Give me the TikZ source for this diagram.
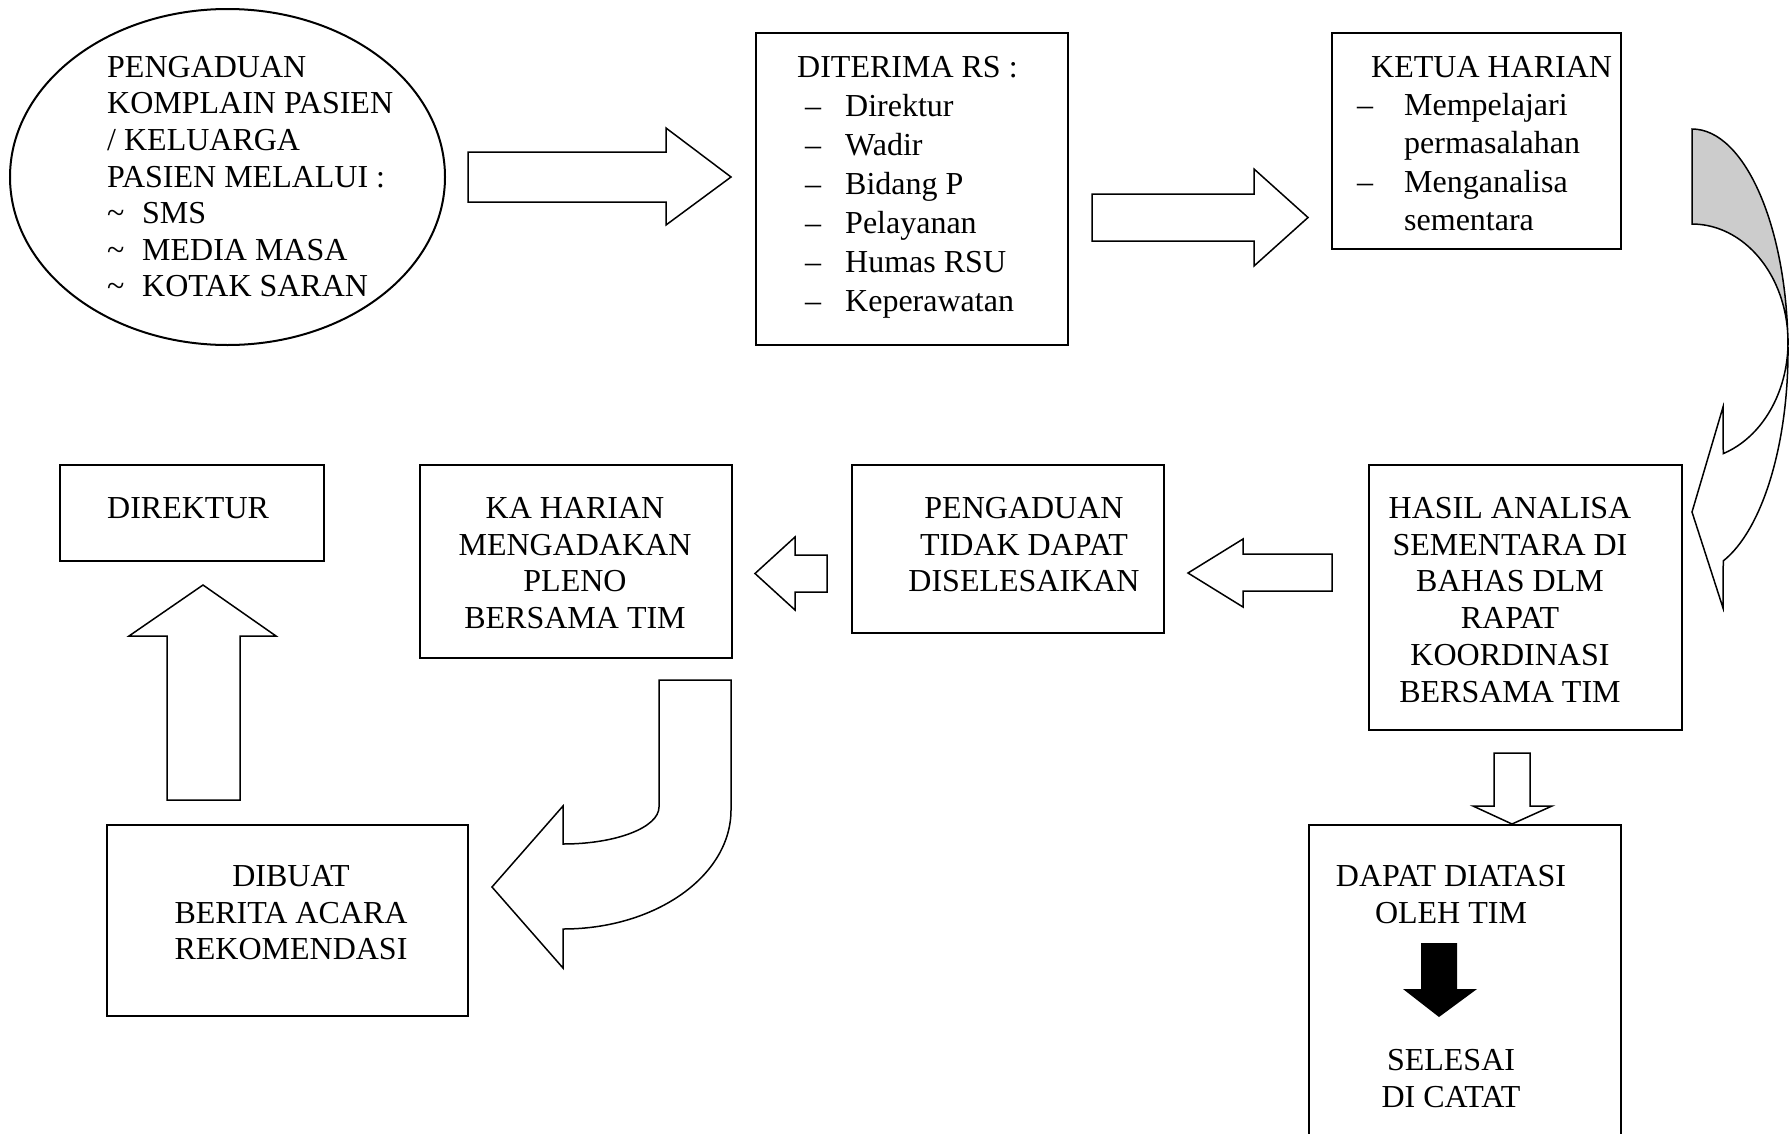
\documentclass[tikz,border=0pt]{standalone}
\usepackage{fontspec}
\setmainfont{Liberation Serif}
\usetikzlibrary{shapes.geometric}
\definecolor{shadegray}{RGB}{204,204,204}
\tikzset{
  box/.style={draw, line width=2pt, inner sep=0pt, anchor=north west},
  blk/.style={draw, line width=1.5pt, line join=miter, fill=white},
  txt/.style={inner sep=0pt, font=\fontsize{32}{36.8}\selectfont},
}
\begin{document}
\begin{tikzpicture}[x=1pt,y=-1pt]
\useasboundingbox (0,0) rectangle (1791,1133);
\fill[white] (0,0) rectangle (1791,1133);

% ---- source ellipse
\node[draw, ellipse, line width=2pt, minimum width=435pt, minimum height=336pt, inner sep=0pt] (src) at (227.5,177) {};
\node[txt, anchor=north west, align=left, font=\fontsize{32}{36.6}\selectfont] (srctxt) at (107,56)
  {PENGADUAN\\KOMPLAIN PASIEN\\/ KELUARGA\\PASIEN MELALUI :\\
   \makebox[35pt][l]{\textasciitilde}SMS\\
   \makebox[35pt][l]{\textasciitilde}MEDIA MASA\\
   \makebox[35pt][l]{\textasciitilde}KOTAK SARAN};

% ---- boxes
\node[box, minimum width=312pt, minimum height=312pt] (diterima) at (755,32) {};
\node[box, minimum width=289pt, minimum height=216pt] (ketua) at (1331,32) {};
\node[box, minimum width=313pt, minimum height=265pt] (hasil) at (1368,464) {};
\node[box, minimum width=312pt, minimum height=168pt] (tidak) at (851,464) {};
\node[box, minimum width=312pt, minimum height=193pt] (kaharian) at (419,464) {};
\node[box, minimum width=264pt, minimum height=96pt] (direktur) at (59,464) {};
\node[box, minimum width=361pt, minimum height=191pt] (dibuat) at (106,824) {};
\node[box, minimum width=312pt, minimum height=330pt] (dapat) at (1308,824) {};

% ---- texts
\node[txt, anchor=north west, align=left, font=\fontsize{32}{39}\selectfont] (diteritxt) at (797,56)
  {DITERIMA RS :\\
   \hspace*{8pt}\makebox[40pt][l]{–}Direktur\\
   \hspace*{8pt}\makebox[40pt][l]{–}Wadir\\
   \hspace*{8pt}\makebox[40pt][l]{–}Bidang P\\
   \hspace*{8pt}\makebox[40pt][l]{–}Pelayanan\\
   \hspace*{8pt}\makebox[40pt][l]{–}Humas RSU\\
   \hspace*{8pt}\makebox[40pt][l]{–}Keperawatan};
\node[txt, anchor=north west, align=left, font=\fontsize{32}{38.3}\selectfont] (ketuatxt) at (1357,56)
  {\hspace*{14pt}KETUA HARIAN\\
   \makebox[47pt][l]{–}Mempelajari\\
   \hspace*{47pt}permasalahan\\
   \makebox[47pt][l]{–}Menganalisa\\
   \hspace*{47pt}sementara};
\node[txt, anchor=north, align=center] (hasiltxt) at (1510,497)
  {HASIL ANALISA\\SEMENTARA DI\\BAHAS DLM\\RAPAT\\KOORDINASI\\BERSAMA TIM};
\node[txt, anchor=north, align=center] (tidaktxt) at (1024,497)
  {PENGADUAN\\TIDAK DAPAT\\DISELESAIKAN};
\node[txt, anchor=north, align=center] (katxt) at (575,497)
  {KA HARIAN\\MENGADAKAN\\PLENO\\BERSAMA TIM};
\node[txt, anchor=north west] (direktxt) at (107,497) {DIREKTUR};
\node[txt, anchor=north, align=center] (dibuattxt) at (291,865)
  {DIBUAT\\BERITA ACARA\\REKOMENDASI};
\node[txt, anchor=north, align=center, font=\fontsize{32}{37}\selectfont] (dapattxt) at (1451,865)
  {DAPAT DIATASI\\OLEH TIM};
\node[txt, anchor=north, align=center, font=\fontsize{32}{37}\selectfont] (selesaitxt) at (1451,1049)
  {SELESAI\\DI CATAT};

% ---- block arrows
\draw[blk] (468,152) -- (666,152) -- (666,128) -- (731,177) -- (666,225) -- (666,202) -- (468,202) -- cycle;
\draw[blk] (1092,194) -- (1254,194) -- (1254,169) -- (1308,217.5) -- (1254,266) -- (1254,241) -- (1092,241) -- cycle;
\draw[blk] (1332,554) -- (1243,554) -- (1243,539) -- (1188,573) -- (1243,607) -- (1243,591) -- (1332,591) -- cycle;
\draw[blk] (827,555) -- (795,555) -- (795,537) -- (755,573.5) -- (795,610) -- (795,592) -- (827,592) -- cycle;
\draw[blk] (167,800) -- (167,636) -- (129,636) -- (203,585) -- (276,636) -- (240,636) -- (240,800) -- cycle;
\draw[blk] (1494,753) -- (1530,753) -- (1530,806) -- (1552,806) -- (1512,824) -- (1473,806) -- (1494,806) -- cycle;
\fill[black] (1421,943) -- (1457,943) -- (1457,989) -- (1477,989) -- (1439,1017) -- (1403,989) -- (1421,989) -- cycle;

% ---- J-shaped curved arrow
\draw[blk] (659,680) -- (659,807) arc[start angle=0,end angle=90,x radius=96,y radius=37]
  -- (563,806) -- (492,887) -- (563,968) -- (563,929)
  arc[start angle=90,end angle=0,x radius=168,y radius=119] -- (731,680) -- cycle;

% ---- curved arrow top right
\fill[shadegray] (1692,129) arc[start angle=-90,end angle=0,x radius=96,y radius=222]
  -- (1788,342) arc[start angle=0,end angle=-90,x radius=96,y radius=118] -- cycle;
\draw[line width=1.5pt, line join=miter] (1692,129) arc[start angle=-90,end angle=71,x radius=96,y radius=222]
  -- (1723,608) -- (1692,512) -- (1723,407) -- (1723.25,453.6)
  arc[start angle=71,end angle=-90,x radius=96,y radius=118] -- cycle;
\end{tikzpicture}
\end{document}
